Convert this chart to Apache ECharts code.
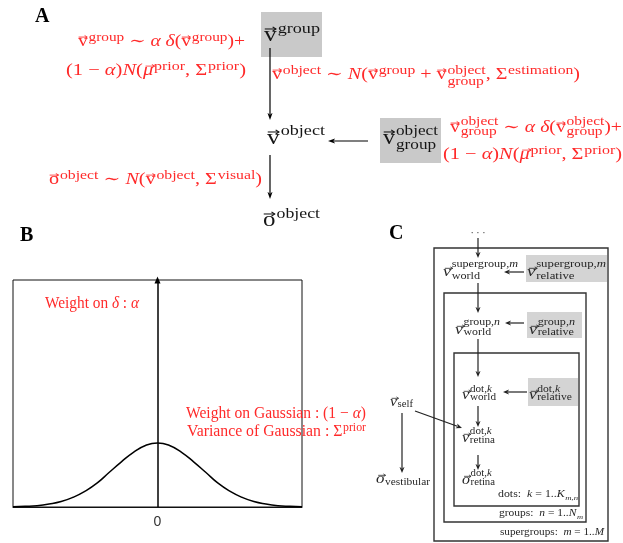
<!DOCTYPE html>
<html><head><meta charset="utf-8">
<script src="https://cdn.jsdelivr.net/npm/echarts@6/dist/echarts.min.js"></script>
<style>html,body{margin:0;padding:0;background:#fff}#c{width:623px;height:543px}</style>
</head><body><div id="c"></div>
<script>
// ---------- Panel B data ----------
const gaussX = [-3,-2.75,-2.5,-2.25,-2,-1.75,-1.5,-1.25,-1,-0.75,-0.5,-0.25,0,0.25,0.5,0.75,1,1.25,1.5,1.75,2,2.25,2.5,2.75,3];
const gaussY = [0.001,0.003,0.006,0.013,0.024,0.043,0.070,0.106,0.153,0.199,0.241,0.271,0.282,0.271,0.241,0.199,0.153,0.106,0.070,0.043,0.024,0.013,0.006,0.003,0.001];
const deltaX = 0;
const deltaTop = 1;
const xTickLabels = ['0'];
const panelLabels = ['A','B','C'];

// ---------- helpers ----------
const SERIF = '"Liberation Serif", "DejaVu Serif", serif';
const RED = '#ff2a2a';
const INK = '#151515';
const CINK = '#262626';
const cv = document.createElement('canvas').getContext('2d');
function fnt(size, it, bold){ return (it?'italic ':'') + (bold?'bold ':'') + size + 'px ' + SERIF; }
function mw(text, font){ cv.font = font; return cv.measureText(text).width; }
function T(t,it){ return {k:'t', t:t, it:!!it}; }
function V(t,it){ return {k:'v', t:t, it:!!it}; }
function S(sup,sub){ return {k:'s', sup:sup, sub:sub}; }
function pieces(p){ if(p==null) return []; if(typeof p==='string') return [[p,false]]; return p; }

function mathText(tokens, o){
  const items = []; let x = 0;
  const color = o.color;
  function txt(t, x0, yb, size, it){
    items.push({type:'text', z:30, x:x0, y:yb - 0.32*size,
      style:{text:t, font:fnt(size,it), fill:color, textAlign:'left', textVerticalAlign:'middle'}});
    return mw(t, fnt(size,it));
  }
  for (const tk of tokens){
    if (tk.k==='t'){ x += txt(tk.t, x, 0, o.S, tk.it); }
    else if (tk.k==='v'){
      const w = txt(tk.t, x, 0, o.S, tk.it);
      const cx = x + w/2 + (tk.it ? 0.1*o.S : 0);
      const ay = -0.62*o.S, aw = 0.44*o.S, lw = Math.max(0.7, 0.05*o.S);
      items.push({type:'polyline', z:30, shape:{points:[[cx-aw/2,ay],[cx+aw/2,ay]]}, style:{stroke:color, lineWidth:lw, fill:'none'}});
      items.push({type:'polyline', z:30, shape:{points:[[cx+aw/2-0.13*o.S,ay-0.1*o.S],[cx+aw/2,ay],[cx+aw/2-0.13*o.S,ay+0.1*o.S]]}, style:{stroke:color, lineWidth:lw, fill:'none'}});
      x += w;
    } else if (tk.k==='s'){
      const gap = 0.04*o.S; let wmax = 0;
      [[tk.sup, -o.up],[tk.sub, o.dn]].forEach(function(pr){
        let xx = x + gap;
        pieces(pr[0]).forEach(function(p){ xx += txt(p[0], xx, pr[1], o.ss, p[1]); });
        wmax = Math.max(wmax, xx - x);
      });
      x += wmax;
    }
  }
  const sx = (o.right != null) ? (o.right - o.left)/x : 1;
  return {type:'group', x:o.left, y:o.base, scaleX:sx, children:items};
}
function arrow(x1,y1,x2,y2,color,lw,hl,hw){
  const dx=x2-x1, dy=y2-y1, L=Math.hypot(dx,dy), ux=dx/L, uy=dy/L;
  const bx=x2-ux*hl, by=y2-uy*hl;
  return [
    {type:'line', z:15, shape:{x1:x1,y1:y1,x2:bx+ux*1,y2:by+uy*1}, style:{stroke:color, lineWidth:lw}},
    {type:'polygon', z:15, shape:{points:[[x2,y2],[bx-uy*hw/2, by+ux*hw/2],[bx+ux*1.5,by+uy*1.5],[bx+uy*hw/2, by-ux*hw/2]]}, style:{fill:color}}
  ];
}
function rect(x,y,w,h,fill,stroke,lw){
  return {type:'rect', z:10, shape:{x:x,y:y,width:w,height:h}, style:{fill:fill||'none', stroke:stroke||'none', lineWidth:lw||0}};
}

// ---------- Panel A expressions ----------
const priorExpr = [T('(1 − '), T('α',1), T(')'), T('N',1), T('('), V('μ',1), S('prior'), T(', Σ'), S('prior'), T(')')];
const els = [];
els.push(rect(261,12,61,45,'#c9c9c9'));
els.push(rect(380,118,61,45,'#c9c9c9'));
const red = {color:RED, S:16, ss:12.5};
els.push(mathText([V('v'), S('group'), T(' ∼ '), T('α',1), T(' '), T('δ',1), T('('), V('v'), S('group'), T(')+')], Object.assign({left:78,right:245,base:47,up:5,dn:5}, red)));
els.push(mathText(priorExpr, Object.assign({left:66,right:246,base:76,up:5,dn:5}, red)));
els.push(mathText([V('v'), S('object'), T(' ∼ '), T('N',1), T('('), V('v'), S('group'), T(' + '), V('v'), S('object','group'), T(', Σ'), S('estimation'), T(')')], Object.assign({left:272,right:580,base:80,up:5,dn:6}, red)));
els.push(mathText([V('v'), S('object','group'), T(' ∼ '), T('α',1), T(' '), T('δ',1), T('('), V('v'), S('object','group'), T(')+')], Object.assign({left:450,right:622,base:133,up:7,dn:3}, red)));
els.push(mathText(priorExpr, Object.assign({left:443,right:622,base:160,up:5,dn:5}, red)));
els.push(mathText([V('o'), S('object'), T(' ∼ '), T('N',1), T('('), V('v'), S('object'), T(', Σ'), S('visual'), T(')')], Object.assign({left:49,right:262,base:185,up:5,dn:5}, red)));
const blk = {color:INK, S:21, ss:15};
els.push(mathText([V('v'), S('group')], Object.assign({left:264,right:320,base:42,up:8,dn:5}, blk)));
els.push(mathText([V('v'), S('object')], Object.assign({left:267,right:325,base:145,up:9,dn:5}, blk)));
els.push(mathText([V('v'), S('object','group')], Object.assign({left:383,right:438,base:145,up:9,dn:5}, blk)));
els.push(mathText([V('o'), S('object')], Object.assign({left:263,right:320,base:227,up:8,dn:5}, blk)));
arrow(270,48,270,120,'#000',1.2,7,5).forEach(e=>els.push(e));
arrow(368,141,328,141,'#000',1.2,7,5).forEach(e=>els.push(e));
arrow(270,155,270,199,'#000',1.2,7,5).forEach(e=>els.push(e));

// ---------- Panel labels ----------
[[35,23],[20,242],[389,240]].forEach(function(p,i){
  els.push({type:'text', z:30, x:p[0], y:p[1]-0.32*20, style:{text:panelLabels[i], font:fnt(20,false,true), fill:'#000', textAlign:'left', textVerticalAlign:'middle'}});
});

// ---------- Panel B annotations ----------
const redB = {color:RED, S:16, ss:12};
els.push(mathText([T('Weight on '), T('δ',1), T(' : '), T('α',1)], Object.assign({left:45,right:139,base:309,up:5,dn:4}, redB)));
els.push(mathText([T('Weight on Gaussian : (1 − '), T('α',1), T(')')], Object.assign({left:186,right:366,base:419,up:5,dn:4}, redB)));
els.push(mathText([T('Variance of Gaussian : Σ'), S('prior')], Object.assign({left:187,right:366,base:437,up:5,dn:4}, redB)));

// ---------- Panel C ----------
els.push(rect(526,255,81,27,'#d4d4d4'));
els.push(rect(527,312,55,26,'#d4d4d4'));
els.push(rect(528,378,50,28,'#d4d4d4'));
els.push(rect(434,248,174,293,null,'#333',1.4));
els.push(rect(444,293,142,229,null,'#333',1.4));
els.push(rect(454,353,125,153,null,'#333',1.4));
const cs = {color:CINK, S:14, ss:9.5};
const sg = [['supergroup,',false],['m',true]], gr = [['group,',false],['n',true]], dk = [['dot,',false],['k',true]];
els.push(mathText([V('v',1), S(sg,'world')], Object.assign({left:443,right:518,base:277,up:9,dn:3}, cs)));
els.push(mathText([V('v',1), S(sg,'relative')], Object.assign({left:527,right:606,base:277,up:9,dn:3}, cs)));
els.push(mathText([V('v',1), S(gr,'world')], Object.assign({left:455,right:500,base:335,up:9,dn:1}, cs)));
els.push(mathText([V('v',1), S(gr,'relative')], Object.assign({left:529,right:575,base:335,up:9,dn:1}, cs)));
els.push(mathText([V('v',1), S(dk,'world')], Object.assign({left:462,right:496,base:400,up:7,dn:1}, cs)));
els.push(mathText([V('v',1), S(dk,'relative')], Object.assign({left:529,right:572,base:400,up:7,dn:1}, cs)));
els.push(mathText([V('v',1), S(dk,'retina')], Object.assign({left:462,right:495,base:443,up:8,dn:1}, cs)));
els.push(mathText([V('o',1), S(dk,'retina')], Object.assign({left:462,right:495,base:485,up:8,dn:1}, cs)));
els.push(mathText([V('v',1), S(null,'self')], Object.assign({left:390,right:413,base:407,up:8,dn:1}, cs)));
els.push(mathText([V('o',1), S(null,'vestibular')], Object.assign({left:376,right:430,base:484,up:8,dn:2}, cs)));
const cl = {color:CINK, S:9.5, ss:7};
els.push(mathText([T('dots:  '), T('k',1), T(' = 1..'), T('K',1), S(null,[['m,n',true]])], Object.assign({left:498,right:578,base:498,up:4,dn:2}, cl)));
els.push(mathText([T('groups:  '), T('n',1), T(' = 1..'), T('N',1), S(null,[['m',true]])], Object.assign({left:499,right:583,base:517,up:4,dn:2}, cl)));
els.push(mathText([T('supergroups:  '), T('m',1), T(' = 1..'), T('M',1)], Object.assign({left:500,right:604,base:536,up:4,dn:2}, cl)));
els.push({type:'text', z:30, x:478, y:233, style:{text:'· · ·', font:fnt(10), fill:CINK, textAlign:'center', textVerticalAlign:'middle'}});
const ca = '#222';
[[478,238,478,258],[478,283,478,313],[478,339,478,377],[478,406,478,427],[478,455,478,470],
 [524,272,504,272],[524,323,505,323],[527,392,503,392],[415,411,462,428],[402,413,402,473]].forEach(function(a){
  arrow(a[0],a[1],a[2],a[3],ca,1.2,6,5).forEach(e=>els.push(e));
});

// ---------- chart ----------
const chart = echarts.init(document.getElementById('c'), null, {renderer:'canvas'});
chart.setOption({
  animation:false,
  backgroundColor:'#fff',
  grid:{left:13, right:321, top:280, bottom:36, show:true, borderColor:'#111', borderWidth:1, containLabel:false},
  xAxis:{type:'value', min:-3, max:3, interval:3,
    axisLine:{show:true, onZero:false, lineStyle:{color:'#111', width:1}},
    axisTick:{show:false}, splitLine:{show:false},
    axisLabel:{color:'#333', fontSize:14, margin:8, showMinLabel:true, showMaxLabel:true,
      formatter:function(v){ return xTickLabels.indexOf(String(v))>=0 ? String(v) : ''; }}},
  yAxis:{type:'value', min:0, max:1, show:false},
  series:[{
    type:'line', data:gaussX.map((x,i)=>[x,gaussY[i]]), smooth:true, showSymbol:false, silent:true,
    lineStyle:{color:'#000', width:1.5},
    markLine:{silent:true, animation:false, symbol:['none','triangle'], symbolSize:[6,7], label:{show:false},
      lineStyle:{color:'#000', width:1.5, type:'solid'},
      data:[[{coord:[deltaX,0]},{coord:[deltaX,deltaTop]}]]}
  }],
  graphic:{elements:els}
});
</script>
</body></html>
